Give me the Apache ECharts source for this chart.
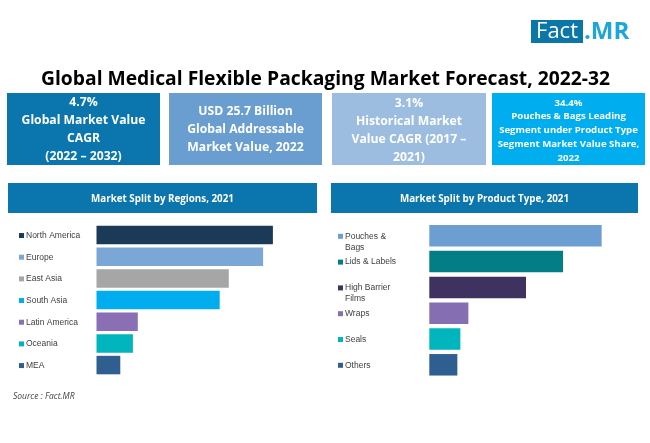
<!DOCTYPE html>
<html>
<head>
<meta charset="utf-8">
<style>html,body{margin:0;padding:0;background:#fff}#chart{width:650px;height:443px}</style>
<script src="https://cdn.jsdelivr.net/npm/echarts@6/dist/echarts.min.js"></script>
</head>
<body>
<div id="chart"></div>
<script>
const chartTitle = 'Global Medical Flexible Packaging Market Forecast, 2022-32';
const regionTitle = 'Market Split by Regions, 2021';
const productTitle = 'Market Split by Product Type, 2021';
const sourceText = 'Source : Fact.MR';

const kpi1 = '4.7%\nGlobal Market Value\nCAGR\n(2022 – 2032)';
const kpi2 = 'USD 25.7 Billion\nGlobal Addressable\nMarket Value, 2022';
const kpi3 = '3.1%\nHistorical Market\nValue CAGR (2017 –\n2021)';
const kpi4 = '34.4%\nPouches & Bags Leading\nSegment under Product Type\nSegment Market Value Share,\n2022';

const regions = ['North America', 'Europe', 'East Asia', 'South Asia', 'Latin America', 'Oceania', 'MEA'];
const regionShare = [25.2, 23.8, 18.9, 17.6, 5.9, 5.2, 3.4];
const products = ['Pouches &\nBags', 'Lids & Labels', 'High Barrier\nFilms', 'Wraps', 'Seals', 'Others'];
const productShare = [34.4, 26.7, 19.3, 7.8, 6.2, 5.6];

const regionColors = ['#1b3a57', '#7ba7d7', '#a6a6a6', '#00aeef', '#8a6fb5', '#00b5bd', '#2f5f91'];
const productColors = ['#6c9ed2', '#047e86', '#3f3160', '#866eb3', '#00b5bd', '#2f5f91'];

const font = '"Open Sans"';

function axisLabels(colors, margin) {
  const rich = {
    t: { fontSize: 8.5, color: '#404040', fontFamily: 'Liberation Sans', lineHeight: 11, padding: [0, 0, 0, 2] },
    s: { width: 5, height: 5 }
  };
  colors.forEach((c, i) => {
    rich['s' + i] = { backgroundColor: c, width: 5, height: 5 };
  });
  return {
    align: 'left',
    verticalAlign: 'top',
    margin: margin,
    padding: [-5, 0, 0, 0],
    interval: 0,
    rich: rich,
    formatter: function (value, i) {
      const lines = value.split('\n');
      let out = '{s' + i + '|}{t|' + lines[0] + '}';
      if (lines[1]) out += '\n{s|}{t|' + lines[1] + '}';
      return out;
    }
  };
}

function yAxis(index, names, colors, margin) {
  return {
    type: 'category', gridIndex: index, inverse: true, data: names,
    axisLine: { show: false }, axisTick: { show: false }, splitLine: { show: false },
    axisLabel: axisLabels(colors, margin)
  };
}

function xAxis(index, max) {
  return { type: 'value', gridIndex: index, min: 0, max: max, show: false };
}

function barSeries(index, values, colors, width) {
  return {
    type: 'bar', xAxisIndex: index, yAxisIndex: index, barWidth: width, silent: true,
    data: values.map((v, i) => ({ value: v, itemStyle: { color: colors[i] } }))
  };
}

function box(x, y, w, h, color, text, fontStyle, lineHeight, dy) {
  return {
    type: 'rect', shape: { x: x, y: y, width: w, height: h }, style: { fill: color },
    textContent: {
      style: { text: text, fill: '#fff', font: fontStyle + ' ' + font, align: 'center', lineHeight: lineHeight }
    },
    textConfig: { position: 'inside', offset: [0, dy] }
  };
}

const chart = echarts.init(document.getElementById('chart'));
chart.setOption({
  animation: false,
  backgroundColor: '#fff',
  title: {
    text: chartTitle, left: 320.5, top: 65, textAlign: 'center',
    textStyle: { fontFamily: font, fontSize: 19.3, fontWeight: 'bold', color: '#000' }
  },
  grid: [
    { left: 96.5, top: 224.2, width: 210, height: 151.7 },
    { left: 429.3, top: 222.9, width: 200.4, height: 154.8 }
  ],
  xAxis: [xAxis(0, 30), xAxis(1, 40)],
  yAxis: [yAxis(0, regions, regionColors, 77.5), yAxis(1, products, productColors, 91.3)],
  series: [
    barSeries(0, regionShare, regionColors, 18.5),
    barSeries(1, productShare, productColors, 21.5)
  ],
  graphic: [
    box(7, 93, 153, 72, '#0b76ae', kpi1, 'bold 12.2px', 18, 1),
    box(169, 93, 153, 72, '#6a9ed0', kpi2, 'bold 12.2px', 18, 1),
    box(332, 93, 154, 72, '#9cbde0', kpi3, 'bold 12.2px', 18, 1.5),
    box(492, 93, 153, 72, '#00aeef', kpi4, 'bold 9.6px', 13.8, 1.5),
    box(8, 183, 309, 30, '#0b76ae', regionTitle, 'bold 9.8px', 14, 1),
    box(331, 183, 307, 30, '#0b76ae', productTitle, 'bold 9.8px', 14, 1),
    box(531, 20, 52, 23, '#0b76a8', 'Fact', '22px', 23, 0),
    {
      type: 'text', x: 584, y: 20,
      style: { text: '.MR', fill: '#1fa6d8', font: 'bold 24px ' + font }
    },
    {
      type: 'text', x: 13, y: 392,
      style: { text: sourceText, fill: '#404040', font: 'italic 8.5px ' + font }
    }
  ]
});
</script>
</body>
</html>
